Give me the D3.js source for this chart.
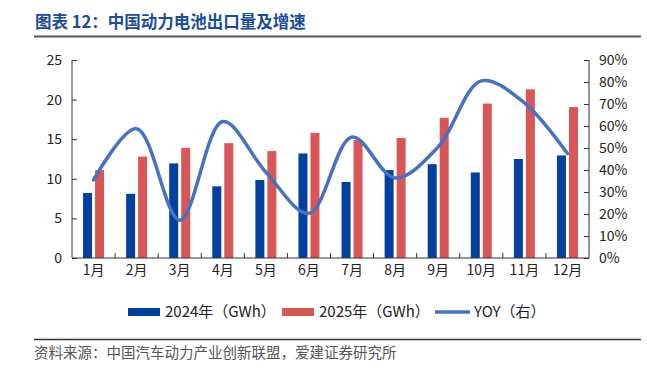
<!DOCTYPE html>
<html><head><meta charset="utf-8">
<script src="https://cdn.jsdelivr.net/npm/d3@7"></script>
<style>body{margin:0;background:#fff}svg{display:block}text{font-family:"Noto Sans CJK SC","Noto Sans",sans-serif}</style>
</head><body><svg id="c" width="647" height="375"></svg>
<script>
const months = ["1月","2月","3月","4月","5月","6月","7月","8月","9月","10月","11月","12月"];
const v2024 = [8.2,8.1,11.95,9.05,9.85,13.2,9.6,11.1,11.85,10.8,12.5,12.95];
const v2025 = [11.1,12.8,13.9,14.5,13.5,15.8,14.9,15.15,17.7,19.5,21.3,19.05];
const yoy = [35.5,58.8,17.2,62.0,39.0,20.3,55.0,36.4,50.5,80.5,70.5,47.5];
const leftTicks = [0,5,10,15,20,25];
const rightTicks = [0,10,20,30,40,50,60,70,80,90];
const seriesNames = ["2024年（GWh）","2025年（GWh）","YOY（右）"];
const colors = {a:"#0440A0", b:"#D85655", line:"#4472C4"};

const svg = d3.select("#c");
const L=72, R=589, T=60, B=258;
const x = d3.scaleBand().domain(months).range([L,R]);
const yL = d3.scaleLinear().domain([0,25]).range([B,T]);
const yR = d3.scaleLinear().domain([0,90]).range([B,T]);

// title
svg.append("text").attr("x",35).attr("y",28).attr("font-size",16.5).attr("font-weight","bold")
  .attr("fill","#1B4C9C").text("图表 12：中国动力电池出口量及增速");
svg.append("line").attr("x1",34).attr("x2",641).attr("y1",36.5).attr("y2",36.5).attr("stroke","#555").attr("stroke-width",2);

// bars
const bw=9, gap=3;
const g = svg.append("g");
g.selectAll("rect.a").data(v2024).join("rect").attr("class","a")
  .attr("x",(d,i)=>x(months[i])+x.bandwidth()/2-gap/2-bw).attr("width",bw)
  .attr("y",d=>yL(d)).attr("height",d=>B-yL(d)).attr("fill",colors.a);
g.selectAll("rect.b").data(v2025).join("rect").attr("class","b")
  .attr("x",(d,i)=>x(months[i])+x.bandwidth()/2+gap/2).attr("width",bw)
  .attr("y",d=>yL(d)).attr("height",d=>B-yL(d)).attr("fill",colors.b);

// axes
const axL = svg.append("g").attr("transform",`translate(${L},0)`)
  .call(d3.axisLeft(yL).tickValues(leftTicks).tickSize(-5).tickPadding(10));
const axR = svg.append("g").attr("transform",`translate(${R},0)`)
  .call(d3.axisRight(yR).tickValues(rightTicks).tickFormat(d=>d+"%").tickSize(-5).tickPadding(10));
const axB = svg.append("g").attr("transform",`translate(0,${B})`)
  .call(d3.axisBottom(x).tickSize(0).tickPadding(12));
// bottom boundary ticks
svg.append("g").selectAll("line").data(months.slice(1)).join("line")
  .attr("x1",d=>x(d)).attr("x2",d=>x(d)).attr("y1",B).attr("y2",B-5).attr("stroke","#333");
[axL,axR,axB].forEach(a=>{
  a.selectAll("path").attr("stroke","#333");
  a.selectAll("line").attr("stroke","#333");
  a.selectAll("text").attr("font-size",14).attr("fill","#222");
});
axL.select(".domain").attr("d",`M0,${T}V${B}`);
axL.selectAll(".tick line").attr("x2",5);
axR.select(".domain").attr("d",`M0,${T}V${B}`);
axR.selectAll(".tick line").attr("x2",-5);
axB.select(".domain").attr("d",`M${L},0H${R}`);
axB.selectAll("text").attr("dy","0.35em");

// line
const line = d3.line().x((d,i)=>x(months[i])+x.bandwidth()/2).y(d=>yR(d)).curve(d3.curveCatmullRom.alpha(0.5));
svg.append("path").datum(yoy).attr("d",line).attr("fill","none").attr("stroke",colors.line)
  .attr("stroke-width",3.5).attr("stroke-linecap","round");

// legend
const lg = svg.append("g").attr("font-size",15);
const ly=312;
const items=[{x:128,type:"rect",c:colors.a},{x:282,type:"rect",c:colors.b},{x:435,type:"line",c:colors.line}];
items.forEach((it,i)=>{
  if(it.type==="rect") lg.append("rect").attr("x",it.x).attr("y",ly-4).attr("width",32).attr("height",8).attr("fill",it.c);
  else lg.append("line").attr("x1",it.x).attr("x2",it.x+35).attr("y1",ly).attr("y2",ly).attr("stroke",it.c).attr("stroke-width",3.5);
  lg.append("text").attr("x",it.x+(it.type==="rect"?37:39)).attr("y",ly).attr("dy","0.35em").attr("fill","#222").text(seriesNames[i]);
});

// footer
svg.append("line").attr("x1",34).attr("x2",641).attr("y1",339.5).attr("y2",339.5).attr("stroke","#333").attr("stroke-width",1.5);
svg.append("text").attr("x",34).attr("y",358).attr("font-size",14.5).attr("fill","#555")
  .text("资料来源：中国汽车动力产业创新联盟，爱建证券研究所");
</script></body></html>
